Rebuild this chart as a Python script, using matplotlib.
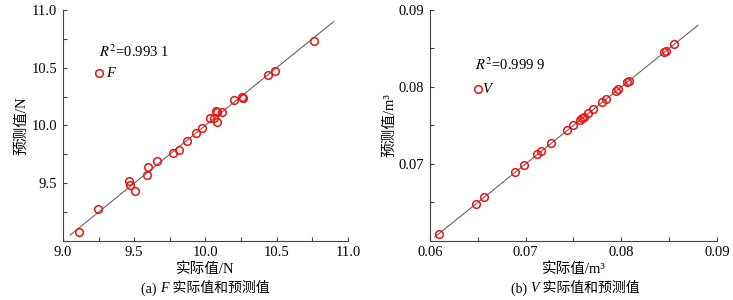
import matplotlib
matplotlib.use("Agg")
import matplotlib.pyplot as plt
from matplotlib.ticker import MultipleLocator, FixedLocator, FixedFormatter
from matplotlib.offsetbox import TextArea, HPacker, AnchoredOffsetbox

plt.rcParams["font.family"] = ["Liberation Serif", "Noto Sans CJK SC"]
plt.rcParams["mathtext.fontset"] = "stix"

# F: actual vs predicted (N)
f_actual = [9.112, 9.246, 9.461, 9.473, 9.508, 9.592, 9.596, 9.662, 9.770, 9.812,
            9.868, 9.931, 9.978, 10.032, 10.060, 10.071, 10.078, 10.083, 10.116,
            10.202, 10.254, 10.265, 10.441, 10.485, 10.761]
f_pred = [9.076, 9.279, 9.522, 9.485, 9.429, 9.568, 9.638, 9.690, 9.765, 9.789,
          9.864, 9.933, 9.980, 10.064, 10.064, 10.125, 10.116, 10.032, 10.116,
          10.217, 10.246, 10.237, 10.437, 10.472, 10.733]

# V: actual vs predicted (m3)
v_actual = [0.06091, 0.06481, 0.06569, 0.06890, 0.06984, 0.07123, 0.07162, 0.07270,
            0.07434, 0.07490, 0.07566, 0.07594, 0.07612, 0.07650, 0.07706, 0.07793,
            0.07838, 0.07940, 0.07967, 0.08062, 0.08076, 0.08442, 0.08463, 0.08553]
v_pred = [0.06092, 0.06484, 0.06571, 0.06893, 0.06989, 0.07129, 0.07168, 0.07277,
          0.07442, 0.07499, 0.07564, 0.07590, 0.07612, 0.07656, 0.07708, 0.07800,
          0.07847, 0.07948, 0.07974, 0.08065, 0.08083, 0.08449, 0.08466, 0.08562]

f_xticks = [9.0, 9.5, 10.0, 10.5, 11.0]
f_yticks = [9.5, 10.0, 10.5, 11.0]
v_xticks = [0.06, 0.07, 0.08, 0.09]
v_yticks = [0.07, 0.08, 0.09]

fig = plt.figure(figsize=(7.33, 3.0), dpi=100)
ax1 = fig.add_axes([0.0859, 0.197, 0.3889, 0.77])
ax2 = fig.add_axes([0.5866, 0.197, 0.3916, 0.77])


def style(ax, lim, xt, yt, xfmt, yfmt, minor):
    ax.set_xlim(lim)
    ax.set_ylim(lim)
    for s in ["top", "right"]:
        ax.spines[s].set_visible(False)
    for s in ["left", "bottom"]:
        ax.spines[s].set_color("#444444")
        ax.spines[s].set_linewidth(0.8)
    ax.xaxis.set_major_locator(FixedLocator(xt))
    ax.xaxis.set_major_formatter(FixedFormatter([xfmt.format(t) for t in xt]))
    ax.yaxis.set_major_locator(FixedLocator(yt))
    ax.yaxis.set_major_formatter(FixedFormatter([yfmt.format(t) for t in yt]))
    ax.xaxis.set_minor_locator(MultipleLocator(minor))
    ax.yaxis.set_minor_locator(MultipleLocator(minor))
    ax.tick_params(which="both", direction="in", length=3, width=0.8,
                   color="#444444", labelsize=10.5, pad=4)


def caption(x, parts):
    # parts: (text, style) pieces laid side by side, centred at figure x
    boxes = [TextArea(t, textprops=dict(fontsize=10, style=st)) for t, st in parts]
    pack = HPacker(children=boxes, align="baseline", pad=0, sep=0)
    ab = AnchoredOffsetbox(loc="center", child=pack, frameon=False,
                           bbox_to_anchor=(x, 0.037), bbox_transform=fig.transFigure,
                           borderpad=0, pad=0)
    fig.add_artist(ab)


mk = dict(mfc="none", mec="#ee1111", mew=1.1, ms=5.5)

# panel (a)
ax1.plot([9.05, 10.9], [9.05, 10.9], color="#666666", lw=0.8, zorder=1)
ax1.plot(f_actual, f_pred, "o", zorder=2, **mk)
style(ax1, (9.0, 11.0), f_xticks, f_yticks, "{:.1f}", "{:.1f}", 0.25)
ax1.text(9.25, 10.64, "$R^2$=0.993 1", fontsize=10.5, va="center")
ax1.plot([9.255], [10.45], "o", clip_on=False, **mk)
ax1.text(9.3, 10.45, "F", fontsize=10.5, style="italic", va="center")
ax1.set_xlabel("实际值/N", fontsize=10.5, labelpad=2)
ax1.set_ylabel("预测值/N", fontsize=10.5, labelpad=2)
caption(0.28, [("(a) ", "normal"), ("F", "italic"), (" 实际值和预测值", "normal")])

# panel (b)
ax2.plot([0.0605, 0.088], [0.0605, 0.088], color="#666666", lw=0.8, zorder=1)
ax2.plot(v_actual, v_pred, "o", zorder=2, **mk)
style(ax2, (0.06, 0.09), v_xticks, v_yticks, "{:.2f}", "{:.2f}", 0.005)
ax2.text(0.0647, 0.0829, "$R^2$=0.999 9", fontsize=10.5, va="center")
ax2.plot([0.0650], [0.0797], "o", clip_on=False, **mk)
ax2.text(0.0655, 0.0797, "V", fontsize=10.5, style="italic", va="center")
ax2.set_xlabel("实际值/m³", fontsize=10.5, labelpad=2)
ax2.set_ylabel("预测值/m³", fontsize=10.5, labelpad=2)
caption(0.785, [("(b) ", "normal"), ("V", "italic"), (" 实际值和预测值", "normal")])

fig.savefig("out.png", dpi=100)
